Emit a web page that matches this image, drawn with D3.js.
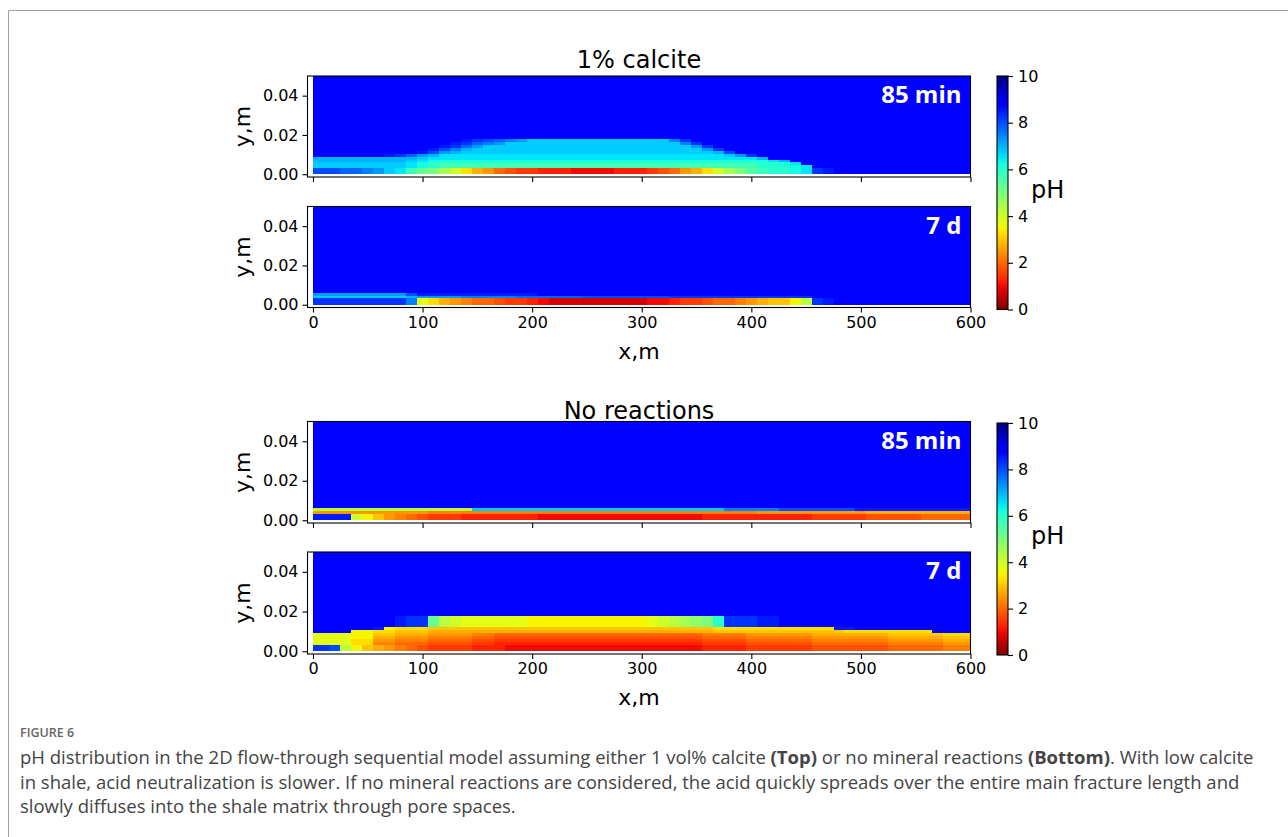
<!DOCTYPE html>
<html>
<head>
<meta charset="utf-8">
<script src="https://cdn.jsdelivr.net/npm/d3@7"></script>
<style>
  body { margin: 0; background: #fff; }
  svg { display: block; }
</style>
</head>
<body>
<div id="chart"></div>
<script>
const width = 1288;
const height = 837;

// ------------------
// DATA
// ------------------

// cell centres along the fracture (m), one column every 10 m
const xCenters = [0, 10, 20, 30, 40, 50, 60, 70, 80, 90, 100, 110, 120, 130, 140, 150, 160, 170, 180, 190,
  200, 210, 220, 230, 240, 250, 260, 270, 280, 290, 300, 310, 320, 330, 340, 350, 360, 370, 380, 390,
  400, 410, 420, 430, 440, 450, 460, 470, 480, 490, 500, 510, 520, 530, 540, 550, 560, 570, 580, 590, 600];
// row edges into the matrix (m), the first row is the fracture itself
const rowEdges = [0, 0.0033, 0.0045, 0.006, 0.0075, 0.009, 0.0105, 0.012, 0.0135, 0.015, 0.0165, 0.018];
const matrixPH = 8.75; // untouched shale above the last row

const xTicks = [0, 100, 200, 300, 400, 500, 600];
const yTicks = [0, 0.02, 0.04];
const phTicks = [0, 2, 4, 6, 8, 10];

// pH per cell, one character per column: pH = parseInt(char, 36) / 4  ("z" = 8.75)
// rows listed from the top (0.018 m) down to the fracture row
const calcite85min = [
  "zzzzzzzzzz zzzzyxwvut rrrrrrrrrr rrruxzzzzz zzzzzzzzzz zzzzzzzzzzz",
  "zzzzzzzzzz zzzyxvutrr rrrrrrrrrr rrrruxzzzz zzzzzzzzzz zzzzzzzzzzz",
  "zzzzzzzzzz zzyxvtrrrr rrrrrrrrrr rrrrrtxzzz zzzzzzzzzz zzzzzzzzzzz",
  "zzzzzzzzzz zywusrrrrr rrrrrrrrrr rrrrrrtxzz zzzzzzzzzz zzzzzzzzzzz",
  "zzzzzzzzzz ywtsrrrrrr rrrrrrrrrr rrrrrrrswz zzzzzzzzzz zzzzzzzzzzz",
  "zzzzzzzyxv tsqqqqqqqq qqqqqqqqqq qqqqqqqqrt xzzzzzzzzz zzzzzzzzzzz",
  "ssssssssss rqqqqqqqqq qqqqqqqqqq qqqqqqqqqq qszzzzzzzz zzzzzzzzzzz",
  "sssssssssr qppppppppp pppppppppp pppppppppp ppqszzzzzz zzzzzzzzzzz",
  "rrrrrrrrrq ponnnnnnnn nnnnnnnnnn nnnnnnnnnn noopqzzzzz zzzzzzzzzzz",
  "rrrrrrrrrq ponnnnnnnn nnnnnnnnnn nnnnnnnnnn nooopqzzzz zzzzzzzzzzz",
  "wwwvvutrqn lkigdba876 6555444455 5678abdgik mnoopqxyzz zzzzzzzzzzz"
];
const calcite7d = [
  "zzzzzzzzzz zzzzzzzzzz zzzzzzzzzz zzzzzzzzzz zzzzzzzzzz zzzzzzzzzzz",
  "zzzzzzzzzz zzzzzzzzzz zzzzzzzzzz zzzzzzzzzz zzzzzzzzzz zzzzzzzzzzz",
  "zzzzzzzzzz zzzzzzzzzz zzzzzzzzzz zzzzzzzzzz zzzzzzzzzz zzzzzzzzzzz",
  "zzzzzzzzzz zzzzzzzzzz zzzzzzzzzz zzzzzzzzzz zzzzzzzzzz zzzzzzzzzzz",
  "zzzzzzzzzz zzzzzzzzzz zzzzzzzzzz zzzzzzzzzz zzzzzzzzzz zzzzzzzzzzz",
  "zzzzzzzzzz zzzzzzzzzz zzzzzzzzzz zzzzzzzzzz zzzzzzzzzz zzzzzzzzzzz",
  "zzzzzzzzzz zzzzzzzzzz zzzzzzzzzz zzzzzzzzzz zzzzzzzzzz zzzzzzzzzzz",
  "zzzzzzzzzz zzzzzzzzzz zzzzzzzzzz zzzzzzzzzz zzzzzzzzzz zzzzzzzzzzz",
  "tttttttttw yyyyyyyyyy yzzzzzzzzz zzzzzzzzzz zzzzzzzzzz zzzzzzzzzzz",
  "rrrrrrrrrs ttttuuuuuv vvvvvwwwww wwwxxxxxxx xxxxxxzzzz zzzzzzzzzzz",
  "xxxxxxxxxu fdba988766 5433333333 3445667889 abccehxyzz zzzzzzzzzzz"
];
const noReaction85min = [
  "zzzzzzzzzz zzzzzzzzzz zzzzzzzzzz zzzzzzzzzz zzzzzzzzzz zzzzzzzzzzz",
  "zzzzzzzzzz zzzzzzzzzz zzzzzzzzzz zzzzzzzzzz zzzzzzzzzz zzzzzzzzzzz",
  "zzzzzzzzzz zzzzzzzzzz zzzzzzzzzz zzzzzzzzzz zzzzzzzzzz zzzzzzzzzzz",
  "zzzzzzzzzz zzzzzzzzzz zzzzzzzzzz zzzzzzzzzz zzzzzzzzzz zzzzzzzzzzz",
  "zzzzzzzzzz zzzzzzzzzz zzzzzzzzzz zzzzzzzzzz zzzzzzzzzz zzzzzzzzzzz",
  "zzzzzzzzzz zzzzzzzzzz zzzzzzzzzz zzzzzzzzzz zzzzzzzzzz zzzzzzzzzzz",
  "zzzzzzzzzz zzzzzzzzzz zzzzzzzzzz zzzzzzzzzz zzzzzzzzzz zzzzzzzzzzz",
  "zzzzzzzzzz zzzzzzzzzz zzzzzzzzzz zzzzzzzzzz zzzzzzzzzz zzzzzzzzzzz",
  "hhhhhhhhhh hhhhhrrrrr rrrrrrrrrr rrrrrrrruu uuuwwwwwww yyyyyyyyyyy",
  "aaaaaaaaaa a999999999 9999999999 9999999999 9aaaaaaaaa abbbbbbbbbb",
  "yyyygeca98 7666555555 5444444444 4444445555 5555556666 67777788888"
];
const noReaction7d = [
  "zzzzzzzzyx xlhgffffff eeeeeeeeee efghijkoxx xyyzzzzzzz zzzzzzzzzzz",
  "zzzzzzzzyx xlhgffffff eeeeeeeeee efghijkoxx xyyzzzzzzz zzzzzzzzzzz",
  "zzzzzzzzyx xlhgffffff eeeeeeeeee efghijkoxx xyyzzzzzzz zzzzzzzzzzz",
  "zzzzzzzzyx xlhgffffff eeeeeeeeee efghijkoxx xyyzzzzzzz zzzzzzzzzzz",
  "zzzzzzyedd dccccccccc cccccccccc cccccccddd ddddddddyy zzzzzzzzzzz",
  "zzzzeeddcc cbbbbbbbbb bbbbbbbbbb bbbbbbbccc cccccccccd dddddddzzzz",
  "ffffeeccbb baaaa99888 8888888888 8888889999 aaaaaabbbb bbbcccccddd",
  "ffffeebbaa a999988777 7777777777 7777778888 999999aaaa aaabbbbbccc",
  "ffffddaa99 9888877666 6666666666 6666667777 8888889999 999aaaaabbb",
  "ffffdd9988 8777766555 5555555555 5555556666 7777778888 88899999aaa",
  "xxwhecba98 7666655544 4444444444 4444445555 6666667777 77788888999"
];

const groupTitles = ["1% calcite", "No reactions"];
const timeLabels = ["85 min", "7 d", "85 min", "7 d"];

const captionHead = "FIGURE 6";
const captionLines = [
  ["pH distribution in the 2D flow-through sequential model assuming either 1 vol% calcite ", ["(Top)", true], " or no mineral reactions ", ["(Bottom)", true], ". With low calcite"],
  ["in shale, acid neutralization is slower. If no mineral reactions are considered, the acid quickly spreads over the entire main fracture length and"],
  ["slowly diffuses into the shale matrix through pore spaces."]
];

// ------------------
// LAYOUT
// ------------------

const frameLeft = 307.5, frameRight = 970.5;
const panels = [
  { rows: calcite85min, top: 76, bottom: 177, label: timeLabels[0], xLabels: false },
  { rows: calcite7d, top: 206.5, bottom: 307.5, label: timeLabels[1], xLabels: true },
  { rows: noReaction85min, top: 421.5, bottom: 523, label: timeLabels[2], xLabels: false },
  { rows: noReaction7d, top: 552, bottom: 654, label: timeLabels[3], xLabels: true }
];
const colorbars = [{ top: 76, bottom: 309.5 }, { top: 423, bottom: 655 }];
const mplFont = "'DejaVu Sans', sans-serif";

// ------------------
// JET (reversed: pH 10 = dark blue, pH 0 = dark red)
// ------------------

const jetR = d3.scaleLinear().domain([0, 0.35, 0.66, 0.89, 1]).range([0, 0, 1, 1, 0.5]).clamp(true);
const jetG = d3.scaleLinear().domain([0, 0.125, 0.375, 0.64, 0.91, 1]).range([0, 0, 1, 1, 0, 0]).clamp(true);
const jetB = d3.scaleLinear().domain([0, 0.11, 0.34, 0.65, 1]).range([0.5, 1, 1, 0, 0]).clamp(true);
const phToT = d3.scaleLinear().domain([10, 0]).range([0, 1]).clamp(true);

function phColor(ph) {
    const t = phToT(ph);
    return d3.rgb(jetR(t) * 255, jetG(t) * 255, jetB(t) * 255).formatHex();
}

const svg = d3.select("#chart")
    .append("svg")
    .attr("width", width)
    .attr("height", height)
    .style("font-family", mplFont);

// figure frame (top and left edges)
svg.append("path")
    .attr("d", "M8.5,837 V10.5 H1288")
    .attr("fill", "none")
    .attr("stroke", "#a0a0a0")
    .attr("stroke-width", 1);

// ------------------
// PANELS
// ------------------

panels.forEach((p, pi) => {
    const x = d3.scaleLinear().domain([-5, 600]).range([frameLeft, frameRight]);
    const y = d3.scaleLinear().domain([-0.0014, 0.05]).range([p.bottom, p.top]);
    const g = svg.append("g");

    // matrix above the refined rows
    g.append("rect")
        .attr("x", x(0))
        .attr("y", y(0.05))
        .attr("width", x(600) - x(0))
        .attr("height", y(rowEdges[rowEdges.length - 1]) - y(0.05))
        .attr("fill", phColor(matrixPH))
        .attr("shape-rendering", "crispEdges");

    const cells = [];
    p.rows.forEach((str, i) => {
        const r = p.rows.length - 1 - i;
        const codes = str.replace(/ /g, "");
        xCenters.forEach((xc, k) => {
            cells.push({
                x0: Math.max(0, xc - 5),
                x1: Math.min(600, xc + 5),
                y0: rowEdges[r],
                y1: rowEdges[r + 1],
                ph: parseInt(codes[k], 36) / 4
            });
        });
    });

    g.selectAll("rect.cell")
        .data(cells)
        .join("rect")
        .attr("class", "cell")
        .attr("shape-rendering", "crispEdges")
        .attr("x", d => x(d.x0))
        .attr("y", d => y(d.y1))
        .attr("width", d => x(d.x1) - x(d.x0))
        .attr("height", d => y(d.y0) - y(d.y1))
        .attr("fill", d => phColor(d.ph));

    // time label
    g.append("text")
        .attr("x", x(600) - 9)
        .attr("y", p.top + 27)
        .attr("text-anchor", "end")
        .attr("fill", "white")
        .style("font-family", "'Open Sans', sans-serif")
        .style("font-weight", "700")
        .style("font-size", "24px")
        .text(p.label);

    // axes
    const yAxis = d3.axisLeft(y)
        .tickValues(yTicks)
        .tickFormat(d3.format(".2f"))
        .tickSize(5)
        .tickPadding(4);
    const ya = g.append("g").attr("transform", `translate(${frameLeft},0)`).call(yAxis);
    ya.select(".domain").remove();

    const xAxis = d3.axisBottom(x)
        .tickValues(xTicks)
        .tickFormat(p.xLabels ? d3.format("d") : "")
        .tickSize(5)
        .tickPadding(4);
    const xa = g.append("g").attr("transform", `translate(0,${p.bottom})`).call(xAxis);
    xa.select(".domain").remove();

    g.selectAll(".tick text")
        .style("font-family", mplFont)
        .style("font-size", "16px")
        .attr("fill", "#000");
    g.selectAll(".tick line").attr("stroke", "#000").attr("stroke-width", 1.1);

    // frame
    g.append("rect")
        .attr("x", frameLeft).attr("y", p.top)
        .attr("width", frameRight - frameLeft).attr("height", p.bottom - p.top)
        .attr("fill", "none")
        .attr("stroke", "#000")
        .attr("stroke-width", 1.1);

    // y label
    g.append("text")
        .attr("transform", `translate(250,${(p.top + p.bottom) / 2}) rotate(-90)`)
        .attr("text-anchor", "middle")
        .style("font-size", "22px")
        .text("y,m");

    if (p.xLabels) {
        g.append("text")
            .attr("x", (frameLeft + frameRight) / 2)
            .attr("y", p.bottom + 51)
            .attr("text-anchor", "middle")
            .style("font-size", "22px")
            .text("x,m");
    }
});

// titles
svg.append("text").attr("x", (frameLeft + frameRight) / 2).attr("y", 68)
    .attr("text-anchor", "middle").style("font-size", "24px").text(groupTitles[0]);
svg.append("text").attr("x", (frameLeft + frameRight) / 2).attr("y", 419)
    .attr("text-anchor", "middle").style("font-size", "24px").text(groupTitles[1]);

// ------------------
// COLORBARS
// ------------------

const defs = svg.append("defs");
const grad = defs.append("linearGradient")
    .attr("id", "jet")
    .attr("x1", 0).attr("y1", 1).attr("x2", 0).attr("y2", 0);
grad.selectAll("stop")
    .data(d3.range(0, 10.01, 0.25))
    .join("stop")
    .attr("offset", d => d / 10)
    .attr("stop-color", d => phColor(d));

colorbars.forEach(cb => {
    const c = d3.scaleLinear().domain([0, 10]).range([cb.bottom, cb.top]);
    const g = svg.append("g");
    g.append("rect")
        .attr("x", 997).attr("y", cb.top)
        .attr("width", 11).attr("height", cb.bottom - cb.top)
        .attr("fill", "url(#jet)")
        .attr("stroke", "#000")
        .attr("stroke-width", 1.1);
    const ax = g.append("g").attr("transform", "translate(1008,0)")
        .call(d3.axisRight(c).tickValues(phTicks).tickSize(5).tickPadding(5));
    ax.select(".domain").remove();
    ax.selectAll(".tick text").style("font-family", mplFont).style("font-size", "16px").attr("fill", "#000");
    ax.selectAll(".tick line").attr("stroke", "#000").attr("stroke-width", 1.1);
    g.append("text")
        .attr("x", 1031)
        .attr("y", (cb.top + cb.bottom) / 2 + 5)
        .style("font-size", "24px")
        .text("pH");
});

// ------------------
// CAPTION
// ------------------

svg.append("text")
    .attr("x", 20).attr("y", 737)
    .style("font-family", "'Open Sans', sans-serif")
    .style("font-size", "12.5px")
    .style("font-weight", "600")
    .attr("fill", "#666")
    .text(captionHead);

captionLines.forEach((parts, i) => {
    const t = svg.append("text")
        .attr("x", 20).attr("y", 764 + i * 24.5)
        .style("font-family", "'Open Sans', sans-serif")
        .style("font-size", "18.5px")
        .attr("fill", "#444");
    parts.forEach(part => {
        const bold = Array.isArray(part);
        t.append("tspan")
            .style("font-weight", bold ? "700" : "400")
            .text(bold ? part[0] : part);
    });
});
</script>
</body>
</html>
